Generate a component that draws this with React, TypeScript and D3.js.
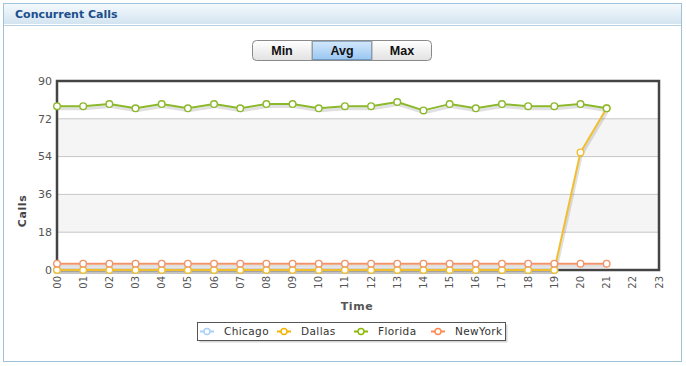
import React from 'react';
import { scaleLinear, line } from 'd3';

// hour labels on the x axis
const hours = ['00', '01', '02', '03', '04', '05', '06', '07', '08', '09', '10', '11',
  '12', '13', '14', '15', '16', '17', '18', '19', '20', '21', '22', '23'];
const yTicks = [0, 18, 36, 54, 72, 90];

// average concurrent calls per hour
const chicago = [0, 0, 0, 0, 0, 0, 0, 0, 0, 0, 0, 0, 0, 0, 0, 0, 0, 0, 0, 0];
const dallas = [0, 0, 0, 0, 0, 0, 0, 0, 0, 0, 0, 0, 0, 0, 0, 0, 0, 0, 0, 0, 56, 77];
const florida = [78, 78, 79, 77, 79, 77, 79, 77, 79, 79, 77, 78, 78, 80, 76, 79, 77, 79, 78, 78, 79, 77];
const newYork = [3, 3, 3, 3, 3, 3, 3, 3, 3, 3, 3, 3, 3, 3, 3, 3, 3, 3, 3, 3, 3, 3];

const seriesNames = ['Chicago', 'Dallas', 'Florida', 'NewYork'];
const seriesColors = ['#a9cdf0', '#f0be2e', '#8cb82b', '#f0946a'];
const legendColors = ['#a8d0f8', '#f5b400', '#8cb800', '#ff8a50'];
const buttons = ['Min', 'Avg', 'Max'];

const W = 686;
const H = 366;
const margin = { top: 81, right: 27, bottom: 96, left: 57 };

export default function App() {
  const innerW = W - margin.left - margin.right;
  const innerH = H - margin.top - margin.bottom;

  const x = scaleLinear().domain([0, hours.length - 1]).range([0, innerW]);
  const y = scaleLinear().domain([0, 90]).range([innerH, 0]);

  const lineGen = line<number>()
    .x((d, i) => x(i))
    .y((d) => y(d));

  const allSeries = [chicago, dallas, florida, newYork];

  const bands = [[18, 36], [54, 72]];

  return (
    <svg width={W} height={H} style={{ position: 'absolute', left: 0, top: 0, fontFamily: 'DejaVu Sans, sans-serif' }}>
      <defs>
        <linearGradient id="hdr" x1="0" y1="0" x2="0" y2="1">
          <stop offset="0" stopColor="#f4f9fd" />
          <stop offset="1" stopColor="#d3e4f0" />
        </linearGradient>
        <linearGradient id="btn" x1="0" y1="0" x2="0" y2="1">
          <stop offset="0" stopColor="#ffffff" />
          <stop offset="1" stopColor="#e2e2e2" />
        </linearGradient>
        <linearGradient id="btnSel" x1="0" y1="0" x2="0" y2="1">
          <stop offset="0" stopColor="#d4e8fb" />
          <stop offset="1" stopColor="#98c6f2" />
        </linearGradient>
      </defs>

      {/* panel */}
      <rect x={3.5} y={3.5} width={678} height={358} fill="#fff" stroke="#9fc2db" />
      <rect x={4} y={4} width={677} height={20} fill="url(#hdr)" />
      <line x1={4} x2={681} y1={24.5} y2={24.5} stroke="#fff" />
      <line x1={4} x2={681} y1={25.5} y2={25.5} stroke="#b8d2e4" />
      <text x={15} y={18} fontSize={11} fontWeight="bold" fill="#1d4f8c">Concurrent Calls</text>

      {/* min / avg / max switch */}
      <g transform="translate(252,40.5)">
        <rect x={0.5} y={0} width={179} height={20} rx={4} fill="url(#btn)" stroke="#8a8a8a" />
        <rect x={60} y={0.5} width={60} height={19} fill="url(#btnSel)" />
        <rect x={60.5} y={1} width={59} height={18} fill="none" stroke="#4a6a90" strokeDasharray="1,1" />
        <line x1={60} x2={60} y1={0} y2={20} stroke="#9a9a9a" />
        <line x1={120} x2={120} y1={0} y2={20} stroke="#9a9a9a" />
        {buttons.map((b, i) => (
          <text key={b} x={30 + i * 60} y={14.5} textAnchor="middle" fontSize={12.5}
            fontFamily="Liberation Sans, Arial, sans-serif" fontWeight="bold" fill="#111">{b}</text>
        ))}
      </g>

      <g transform={`translate(${margin.left},${margin.top})`}>
        {bands.map(([a, b]) => (
          <rect key={a} x={0} y={y(b)} width={innerW} height={y(a) - y(b)} fill="#f5f5f5" />
        ))}
        {yTicks.filter((t) => t > 0 && t < 90).map((t) => (
          <line key={t} x1={0} x2={innerW} y1={y(t)} y2={y(t)} stroke="#c6c6c6" />
        ))}

        {/* line shadows */}
        {allSeries.map((s, k) => (
          <path key={'sh' + k} d={lineGen(s) || ''} transform="translate(1,2.5)" fill="none"
            stroke="rgba(0,0,0,0.12)" strokeWidth={3} strokeLinejoin="round" />
        ))}

        {/* frame */}
        <rect x={0} y={0} width={innerW} height={innerH} fill="none" stroke="#444" strokeWidth={2.5} />

        {allSeries.map((s, k) => (
          <g key={seriesNames[k]}>
            <path d={lineGen(s) || ''} fill="none" stroke={seriesColors[k]} strokeWidth={2}
              strokeLinejoin="round" />
            {s.map((v, i) => (
              <circle key={i} cx={x(i)} cy={y(v)} r={3.3} fill="#fff" stroke={seriesColors[k]}
                strokeWidth={1.4} />
            ))}
          </g>
        ))}

        {/* y axis labels */}
        {yTicks.map((t) => (
          <text key={t} x={-5} y={y(t)} dy="0.35em" textAnchor="end" fontSize={11} fill="#555">{t}</text>
        ))}
        {/* x axis labels */}
        {hours.map((h, i) => (
          <text key={h} transform={`translate(${x(i)},${innerH + 6}) rotate(-90)`} dy="0.35em"
            textAnchor="end" fontSize={10} fill="#555">{h}</text>
        ))}

        <text x={x(11.5) - 1} y={innerH + 40} textAnchor="middle" fontSize={11} fontWeight="bold"
          fill="#555" letterSpacing={0.6}>Time</text>
        <text transform={`translate(${22 - margin.left},${211 - margin.top}) rotate(-90)`} dy="0.35em"
          textAnchor="middle" fontSize={11} fontWeight="bold" fill="#444" letterSpacing={0.6}>Calls</text>
      </g>

      {/* legend */}
      <g transform="translate(197,322)">
        <rect x={2.5} y={2.5} width={308} height={18} fill="#bbb" opacity={0.6} />
        <rect x={0.5} y={0.5} width={308} height={18} fill="#fff" stroke="#555" />
        {seriesNames.map((n, k) => (
          <g key={n} transform={`translate(${10 + k * 77},9.5)`}>
            <line x1={-7} x2={7} y1={0} y2={0} stroke={legendColors[k]} strokeWidth={2} />
            <circle cx={0} cy={0} r={3} fill="#fff" stroke={legendColors[k]} strokeWidth={1.4} />
            <text x={17} y={0} dy="0.35em" fontSize={10.5} fill="#333" letterSpacing={0.4}>{n}</text>
          </g>
        ))}
      </g>
    </svg>
  );
}
